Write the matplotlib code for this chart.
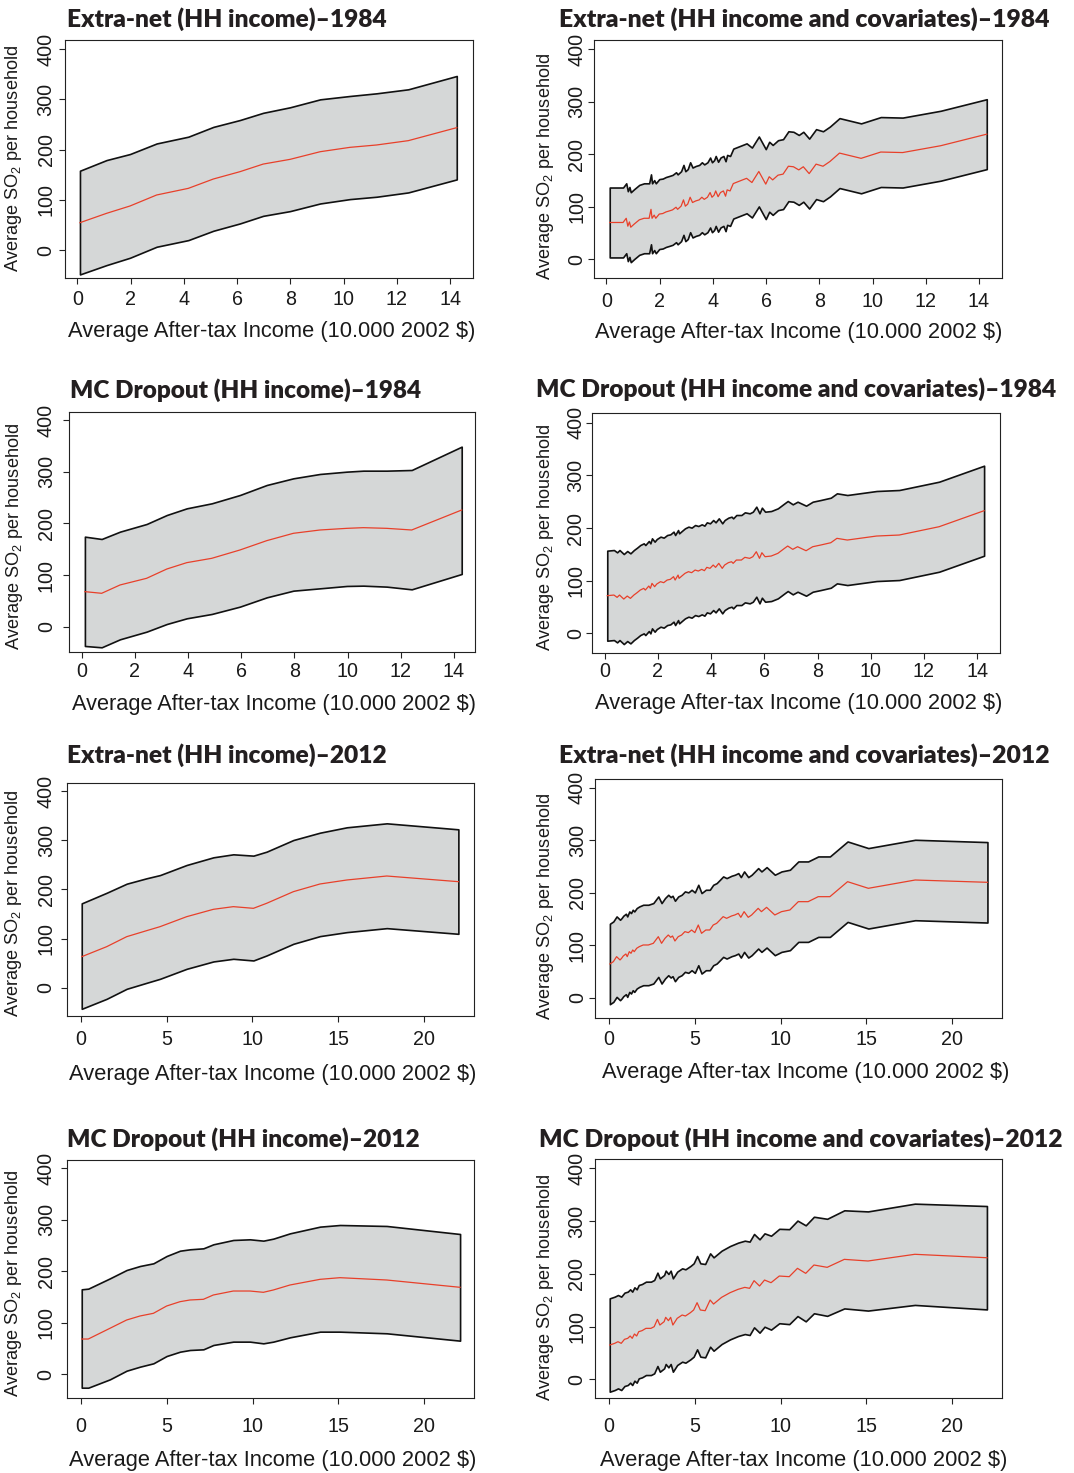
import numpy as np
import matplotlib
matplotlib.use('Agg')
import matplotlib.pyplot as plt

plt.rcParams['font.family'] = ['Liberation Sans', 'DejaVu Sans']
plt.rcParams['mathtext.fontset'] = 'custom'
plt.rcParams['mathtext.rm'] = 'Liberation Sans'
plt.rcParams['mathtext.it'] = 'Liberation Sans:italic'
plt.rcParams['mathtext.bf'] = 'Liberation Sans:bold'

# ---------------- data ----------------
titles = [
    'Extra-net (HH income)\u20131984',
    'Extra-net (HH income and covariates)\u20131984',
    'MC Dropout (HH income)\u20131984',
    'MC Dropout (HH income and covariates)\u20131984',
    'Extra-net (HH income)\u20132012',
    'Extra-net (HH income and covariates)\u20132012',
    'MC Dropout (HH income)\u20132012',
    'MC Dropout (HH income and covariates)\u20132012',
]
x_label = 'Average After-tax Income (10.000 2002 $)'
y_label = r'Average SO$_\mathregular{2}$ per household'
xticks_1984 = [0, 2, 4, 6, 8, 10, 12, 14]
xticks_2012 = [0, 5, 10, 15, 20]
yticks = [0, 100, 200, 300, 400]

# Panel 1: Extra-net (HH income) 1984
p1_x = [0.1, 1.1, 1.98, 2.98, 4.17, 5.11, 6.11, 6.98, 7.99, 9.12, 10.24, 11.24, 12.43, 14.25]
p1_mid = [54.4, 73, 87.6, 109.5, 122.7, 141.3, 155.9, 171, 180.4, 195.6, 204.3, 209, 217.6, 243.5]
p1_hi = [157.8, 179, 191, 212, 225.5, 245, 258.7, 273, 284, 299.8, 306.5, 311.8, 319.8, 346.3]
p1_lo = [-48.6, -30, -15.4, 6.5, 19.7, 38.3, 52.9, 68, 77.4, 92.6, 101.3, 106, 114.6, 140.5]

# Panel 2: Extra-net (HH income and covariates) 1984
p2_x = [0.13, 0.52, 0.63, 0.75, 0.81, 0.87, 0.92, 1.05, 1.24, 1.42,
        1.61, 1.68, 1.72, 1.80, 1.86, 1.99, 2.12, 2.24, 2.37, 2.49,
        2.62, 2.68, 2.81, 2.90, 2.97, 3.06, 3.15, 3.24, 3.36, 3.49,
        3.59, 3.68, 3.80, 3.90, 3.97, 4.05, 4.11, 4.20, 4.29, 4.40,
        4.48, 4.54, 4.65, 4.77, 5.27, 5.47, 5.73, 5.99, 6.12, 6.25,
        6.45, 6.64, 6.84, 7.03, 7.23, 7.40, 7.62, 7.88, 8.14, 8.40,
        8.76, 9.57, 10.31, 11.13, 12.56, 14.29]
p2_mid = [70, 70, 70, 78, 63, 71, 61, 67, 75, 78,
          78, 95, 78, 84, 78, 86, 87, 90, 92, 94,
          99, 95, 101, 113, 101, 105, 118, 108, 111, 113,
          118, 114, 118, 127, 118, 122, 130, 119, 127, 130,
          120, 132, 130, 144, 154, 146, 167, 143, 157, 151,
          160, 162, 177, 176, 170, 176, 163, 181, 177, 186,
          202, 192, 204, 203, 216, 238]
p2_half = 66.5

# Panel 3: MC Dropout (HH income) 1984
p3_x = [0.12, 0.75, 1.44, 2.44, 3.2, 3.95, 4.89, 5.95, 6.96, 7.96, 8.96, 9.97, 10.59, 11.47, 12.41, 14.29]
p3_mid = [67.8, 64.6, 80.7, 93.6, 111.6, 123.9, 132.3, 148.4, 166.5, 180.7, 187.1, 190.3, 191.6, 190.3, 187.1, 225.8]
p3_hi = [174.2, 169.7, 183.9, 198.7, 216.1, 229, 238.7, 254.8, 274.2, 287.1, 295.5, 300, 301.9, 301.9, 303.2, 348.4]
p3_lo = [-37.3, -39.9, -24.4, -9.6, 5.2, 16.2, 24.6, 38.8, 56.8, 69.7, 74.2, 78.8, 79.4, 77.5, 72.3, 102]

# Panel 4: MC Dropout (HH income and covariates) 1984
p4_x = [0.10, 0.35, 0.47, 0.56, 0.72, 0.85, 0.97, 1.10, 1.22, 1.34,
        1.47, 1.53, 1.66, 1.72, 1.78, 1.88, 1.96, 2.10, 2.22, 2.35,
        2.47, 2.59, 2.65, 2.76, 2.80, 2.90, 3.02, 3.15, 3.27, 3.40,
        3.52, 3.65, 3.75, 3.84, 3.96, 4.08, 4.17, 4.29, 4.42, 4.51,
        4.65, 4.77, 4.83, 4.95, 5.14, 5.27, 5.45, 5.57, 5.70, 5.82,
        5.91, 6.03, 6.26, 6.51, 6.76, 6.88, 7.07, 7.25, 7.57, 7.82,
        8.12, 8.50, 8.73, 9.12, 10.22, 11.07, 12.57, 14.26]
p4_mid = [71.5, 72.7, 68.3, 72.7, 65.1, 70.8, 66.4, 72.7, 77.2, 82.2,
          85.4, 82.2, 89.8, 85.4, 94.9, 88.6, 93.6, 98.1, 96.2, 101.2,
          102.5, 107.6, 101.2, 110.7, 104.4, 108.8, 113.9, 117.1, 115.2, 120.2,
          118.3, 121.5, 119, 125.3, 123.4, 129.7, 125.3, 132.9, 123.4, 129.7,
          134.2, 136, 132.9, 139.2, 139.2, 144.3, 142.4, 145.5, 155, 142.4,
          153.1, 145.5, 146.8, 151.9, 161.4, 165.8, 159.5, 164.5, 156.9, 164.5,
          167.7, 172.1, 180.4, 177.2, 184.8, 186.7, 202.5, 232.9]
p4_half = 85.5

# Panel 5: Extra-net (HH income) 2012
p5_x = [0.06, 1.51, 2.68, 3.84, 4.62, 6.17, 7.73, 8.89, 10.06, 10.83, 12.39, 13.94, 15.5, 17.83, 22.0]
p5_mid = [63.1, 83.4, 103.8, 116, 124.1, 144.4, 159.4, 164.8, 161.4, 171.6, 195.3, 210.9, 219, 227.1, 215.6]
p5_hi = [171.5, 193, 211.5, 222.5, 229, 249.5, 265.1, 271.2, 268.5, 276.6, 300.3, 315.2, 326.1, 334.2, 322]
p5_lo = [-42.9, -22.6, -2.2, 10, 18.1, 38.4, 53.4, 58.8, 55.4, 65.6, 89.3, 104.9, 113, 121.1, 109.6]

# Panel 6: Extra-net (HH income and covariates) 2012
p6_x = [0.05, 0.25, 0.44, 0.64, 0.73, 0.83, 0.98, 1.06, 1.18, 1.28,
        1.38, 1.47, 1.61, 1.76, 1.99, 2.29, 2.58, 2.87, 3.06, 3.26,
        3.45, 3.59, 3.70, 3.84, 4.03, 4.23, 4.42, 4.62, 4.81, 5.00,
        5.20, 5.39, 5.64, 5.87, 6.07, 6.27, 6.46, 6.65, 6.85, 7.14,
        7.33, 7.53, 7.68, 7.87, 8.11, 8.31, 8.50, 8.69, 8.88, 9.18,
        9.66, 10.05, 10.54, 11.03, 11.60, 12.19, 12.87, 13.90, 15.11, 17.84,
        22.05]
p6_mid = [64.7, 69.1, 78.6, 72.3, 75.4, 79.9, 83.7, 78.6, 88.1, 85,
          91.3, 88.1, 94.5, 97.6, 100.8, 100.8, 104, 116.6, 104, 113.5,
          119.8, 115.4, 117.9, 108.4, 116.6, 119.8, 126.2, 124.3, 129.3, 124.3,
          138.8, 123, 129.3, 129.3, 138.8, 142, 148.3, 154.7, 151.5, 156,
          157.9, 161, 153.4, 164.2, 153.4, 157.9, 164.2, 170.5, 164.2, 172.4,
          157.9, 164.2, 167.4, 183.2, 183.2, 192.7, 192.7, 221.2, 208.6, 224.4,
          220]
p6_half = 76.5

# Panel 7: MC Dropout (HH income) 2012
p7_x = [0.06, 0.44, 1.7, 2.67, 3.45, 4.23, 5.0, 5.78, 6.36, 7.14, 7.72, 8.88, 9.85, 10.63, 11.21, 12.18, 13.93, 15.09, 17.81, 22.08]
p7_mid = [68.5, 68.5, 89.3, 105.4, 113.2, 118.4, 132.6, 141, 144.3, 145.6, 154, 161.7, 161.7, 159.2, 163.7, 173.4, 184.4, 187.6, 183.1, 168.9]
p7_hi = [165, 166.3, 186.3, 202.5, 210.3, 215.5, 229.7, 240, 242.7, 244.6, 252.4, 260.8, 262.1, 259.5, 263.4, 273.7, 286.7, 289.9, 288, 272.4]
p7_lo = [-26, -26, -9.8, 7, 14.8, 21.3, 35.5, 43.9, 47.2, 48.5, 56.9, 63.4, 63.4, 60.1, 63.4, 71.8, 82.8, 82.8, 79.6, 65.3]

# Panel 8: MC Dropout (HH income and covariates) 2012
p8_x = [0.04, 0.33, 0.52, 0.71, 0.90, 1.09, 1.23, 1.35, 1.48, 1.61,
        1.73, 1.92, 2.15, 2.44, 2.63, 2.82, 2.96, 3.21, 3.30, 3.46,
        3.59, 3.72, 3.97, 4.26, 4.45, 4.74, 4.93, 5.13, 5.32, 5.60,
        5.89, 6.09, 6.56, 7.05, 7.52, 7.91, 8.19, 8.45, 8.77, 9.06,
        9.44, 9.92, 10.50, 10.98, 11.46, 11.94, 12.71, 13.71, 15.09, 17.82,
        22.02]
p8_mid = [65, 68.2, 71.3, 68.2, 75.8, 77.7, 82.1, 77.7, 85.9, 82.1,
          90.3, 92.2, 96.6, 96.6, 99.8, 113.7, 102.9, 109.3, 117.5, 111.2,
          117.5, 102.9, 115.6, 121.9, 120, 126.3, 131.4, 145.3, 131.4, 130.1,
          150.3, 142.7, 155.4, 164.2, 170.6, 174.3, 172.5, 187, 176.9, 188.2,
          183.2, 195.8, 194.6, 210.4, 200.9, 216.7, 212.3, 227.4, 224.3, 237,
          230.5]
p8_half = [88.5, 88.5, 88.5, 88.5, 88.5, 88.5, 88.5, 88.5, 88.5, 88.5,
           88.5, 88.5, 88.5, 88.5, 88.5, 88.5, 88.5, 88.5, 88.5, 88.5,
           88.5, 88.5, 88.5, 88.5, 88.5, 88.5, 88.5, 88.5, 88.5, 88.5,
           88.5, 88.5, 88.5, 88.5, 88.5, 88.5, 88.5, 88.5, 88.5, 88.5,
           89, 89.5, 90, 90.5, 91, 91.5, 92, 93, 94, 96,
           98]

# ---------------- assemble bands ----------------
def band_from_half(mid, half):
    m = np.asarray(mid, float)
    h = np.asarray(half, float)
    return m - h, m + h

p2_lo, p2_hi = band_from_half(p2_mid, p2_half)
p4_lo, p4_hi = band_from_half(p4_mid, p4_half)
p6_lo, p6_hi = band_from_half(p6_mid, p6_half)
p8_lo, p8_hi = band_from_half(p8_mid, p8_half)

panels = [
    (p1_x, p1_lo, p1_mid, p1_hi, xticks_1984),
    (p2_x, p2_lo, p2_mid, p2_hi, xticks_1984),
    (p3_x, p3_lo, p3_mid, p3_hi, xticks_1984),
    (p4_x, p4_lo, p4_mid, p4_hi, xticks_1984),
    (p5_x, p5_lo, p5_mid, p5_hi, xticks_2012),
    (p6_x, p6_lo, p6_mid, p6_hi, xticks_2012),
    (p7_x, p7_lo, p7_mid, p7_hi, xticks_2012),
    (p8_x, p8_lo, p8_mid, p8_hi, xticks_2012),
]

# ---------------- layout (pixels) ----------------
W, H = 1074, 1473
boxes = [(65, 40, 473, 278), (594.2, 40, 1002.2, 278),
         (69, 411.7, 475, 651.7), (591.7, 413.3, 999.8, 652.7),
         (66.7, 782.7, 474, 1016), (594.8, 779, 1002.2, 1017.7),
         (66.7, 1160, 474, 1398.3), (594.8, 1159.3, 1002.2, 1398.3)]
xlims = [(-0.462, 14.86), (-0.453, 14.87), (-0.478, 14.79), (-0.485, 14.85),
         (-0.816, 22.91), (-0.83, 22.91), (-0.815, 22.89), (-0.83, 22.91)]
ylims = [(-55.7, 417.9), (-35.6, 417.1), (-48.4, 416.0), (-36.8, 417.9),
         (-57.5, 416.8), (-37.5, 416.5), (-46.6, 416.1), (-36.0, 417.1)]
xpads = [4.6, 6.0, 3.2, 2.6, 6.0, 4.8, 9.2, 9.2]
ypads = [2.7, 1.8, 5.5, 0.6, 3.9, 1.7, 3.9, 2.2]
title_pos = [(66.7, 26.7, 320), (559.4, 26.7, 491), (70, 398.3, 352), (536.2, 397.3, 522),
             (66.7, 763.3, 320), (559.1, 763, 491), (66.7, 1146.7, 353), (538.6, 1146.7, 523)]
xlab_pos = [(271.7, 337, 410), (799.1, 338, 410), (273.7, 709.5, 407), (799.1, 709, 410),
            (272.8, 1080, 409), (805.6, 1078.3, 409), (272.8, 1465.8, 409), (803.8, 1465.7, 409)]
ylab_pos = [(14, 158.5), (545.6, 166.7), (14.5, 536), (546, 537),
            (14, 903), (545.6, 906), (14, 1283.5), (545.6, 1287.5)]

FILL = '#d5d7d7'
RED = '#e8402a'
TXT = '#1a1a1a'
TITLE_C = '#231f20'

fig = plt.figure(figsize=(W / 100, H / 100), dpi=100)
fig.patch.set_facecolor('white')

title_artists, xlab_artists, ylab_artists = [], [], []
for i, (x, lo, mid, hi, xt) in enumerate(panels):
    x0, y0, x1, y1 = boxes[i]
    ax = fig.add_axes([x0 / W, 1 - y1 / H, (x1 - x0) / W, (y1 - y0) / H])
    ax.fill_between(x, lo, hi, facecolor=FILL, edgecolor='#111111', linewidth=1.2, zorder=1)
    ax.plot(x, mid, color=RED, lw=0.9, zorder=2)
    ax.set_xlim(*xlims[i])
    ax.set_ylim(*ylims[i])
    ax.set_xticks(xt)
    ax.set_yticks(yticks)
    ax.tick_params(axis='both', direction='out', length=4.0, width=0.8, color='#222222',
                   labelsize=14.2, labelcolor=TXT)
    ax.tick_params(axis='x', pad=xpads[i])
    ax.tick_params(axis='y', pad=ypads[i])
    for lab in ax.get_yticklabels():
        lab.set_rotation(90)
        lab.set_va('center')
        lab.set_ha('right')
    for s in ax.spines.values():
        s.set_linewidth(0.8)
        s.set_color('#222222')

    tx, ty, tw = title_pos[i]
    t = fig.text(tx / W, 1 - ty / H, titles[i], ha='left', va='baseline',
                 fontsize=16, fontweight='heavy', family=['Lato', 'DejaVu Sans'], color=TITLE_C)
    title_artists.append((t, tw))
    lx, ly, lw = xlab_pos[i]
    xl = fig.text(lx / W, 1 - ly / H, x_label, ha='center', va='baseline', fontsize=14, color=TXT)
    xlab_artists.append((xl, lw))
    yx, yy = ylab_pos[i]
    yl = fig.text(yx / W, 1 - yy / H, y_label, ha='center', va='center', rotation=90,
                  fontsize=13.5, color=TXT)
    ylab_artists.append((yl, 227))

fig.canvas.draw()
r = fig.canvas.get_renderer()
for t, tw in title_artists + xlab_artists:
    w = t.get_window_extent(renderer=r).width
    t.set_fontsize(t.get_fontsize() * tw / w)
for t, th in ylab_artists:
    h = t.get_window_extent(renderer=r).height
    t.set_fontsize(t.get_fontsize() * th / h)

fig.savefig('out.png', dpi=100, facecolor='white')
